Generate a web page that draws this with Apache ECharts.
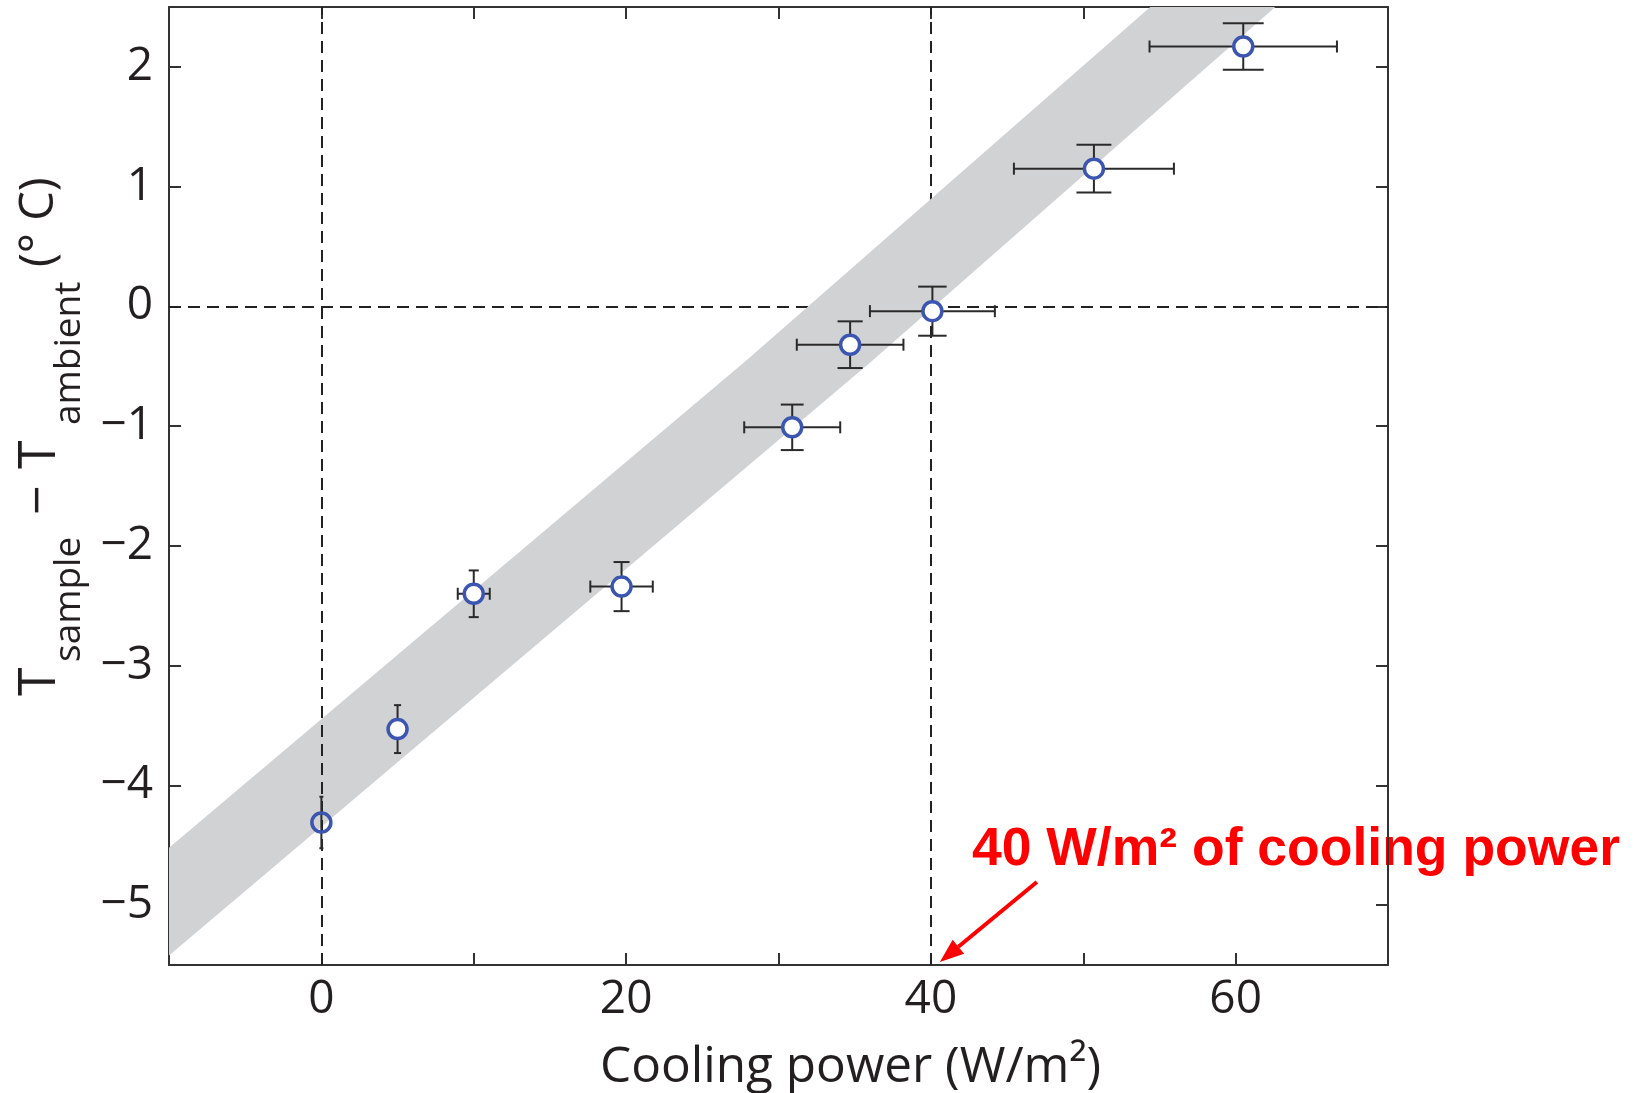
<!DOCTYPE html>
<html>
<head>
<meta charset="utf-8">
<script src="https://cdn.jsdelivr.net/npm/echarts@6/dist/echarts.min.js"></script>
<style>
  html, body { margin: 0; padding: 0; background: #ffffff; }
  #chart { width: 1639px; height: 1093px; }
</style>
</head>
<body>
<div id="chart"></div>
<script>
// Measured points: cooling power (W/m²) against sample-minus-ambient temperature (°C)
const coolingPower = [0, 5.0, 10.0, 19.7, 30.9, 34.7, 40.1, 50.7, 60.5];
const tempDiff     = [-4.31, -3.53, -2.40, -2.34, -1.01, -0.32, -0.04, 1.15, 2.17];
const powerErr     = [0, 0, 1.05, 2.05, 3.15, 3.5, 4.1, 5.25, 6.15];
const tempErr      = [0.215, 0.2, 0.195, 0.205, 0.19, 0.195, 0.205, 0.2, 0.195];

// Shaded fit band, described by its upper and lower edges
const bandUpperX = [-10, 28, 54.4];
const bandUpperY = [-4.52, -0.44, 2.5];
const bandLowerX = [-10, 36, 62.6];
const bandLowerY = [-5.42, -0.47, 2.5];

// Axis ranges and labelled ticks
const xRange = [-10, 70];
const yRange = [-5.5, 2.5];
const xLabelTicks = [0, 20, 40, 60];
const yLabelTicks = [-5, -4, -3, -2, -1, 0, 1, 2];

// Dashed reference lines
const refX = [0, 40];
const refY = [0];

const INK = '#231f20';
const FRAME = '#333333';
const BAR = '#2a2a2a';
const RING = '#3b55b0';

const chart = echarts.init(document.getElementById('chart'), null, { renderer: 'canvas' });

const frameLine = { show: true, onZero: false, lineStyle: { color: FRAME, width: 2 } };
const innerTick = { show: true, inside: true, length: 12, lineStyle: { color: FRAME, width: 2 } };

function xAxisDef(pos, withLabels) {
  return {
    type: 'value', position: pos, min: xRange[0], max: xRange[1], interval: 10,
    axisLine: frameLine, axisTick: innerTick, splitLine: { show: false },
    axisLabel: withLabels ? {
      show: true, margin: 12, color: INK, fontFamily: 'Open Sans', fontSize: 46,
      formatter: v => xLabelTicks.indexOf(v) >= 0 ? String(v) : ''
    } : { show: false }
  };
}
function yAxisDef(pos, withLabels) {
  return {
    type: 'value', position: pos, min: yRange[0], max: yRange[1],
    splitNumber: 8, minInterval: 1, maxInterval: 1,
    axisLine: frameLine, axisTick: innerTick, splitLine: { show: false },
    axisLabel: withLabels ? {
      show: true, margin: 16, color: INK, fontFamily: 'Open Sans', fontSize: 46,
      formatter: v => yLabelTicks.indexOf(v) >= 0 ? String(v).replace('-', '\u2212') : ''
    } : { show: false }
  };
}

const bandPoints = bandUpperX.map((x, i) => [x, bandUpperY[i]])
  .concat(bandLowerX.map((x, i) => [x, bandLowerY[i]]).reverse());

const errData = coolingPower.map((x, i) => [x, tempDiff[i], powerErr[i], tempErr[i]]);
const pointData = coolingPower.map((x, i) => [x, tempDiff[i]]);

const dashStyle = { color: '#222222', width: 2, type: [12, 7] };

function segment(x1, y1, x2, y2) {
  return { type: 'line', shape: { x1, y1, x2, y2 }, style: { stroke: BAR, lineWidth: 2 } };
}

const option = {
  animation: false,
  backgroundColor: '#ffffff',
  grid: { left: 169, right: 251, top: 7, bottom: 128, containLabel: false },
  xAxis: [xAxisDef('bottom', true), xAxisDef('top', false)],
  yAxis: [yAxisDef('left', true), yAxisDef('right', false)],
  series: [
    {
      // reference lines that sit underneath the band
      type: 'line', data: [], z: 1, silent: true,
      markLine: {
        z: 1, silent: true, symbol: ['none', 'none'], label: { show: false },
        lineStyle: dashStyle, animation: false,
        data: [{ xAxis: refX[1] }, { yAxis: refY[0] }]
      }
    },
    {
      // fit band
      type: 'custom', z: 2, silent: true, clip: true,
      data: [[bandUpperX[0], bandUpperY[0]]],
      renderItem: (params, api) => ({
        type: 'polygon',
        shape: { points: bandPoints.map(p => api.coord(p)) },
        style: { fill: '#d1d2d4' }
      })
    },
    {
      // zero-power reference line, drawn above the band
      type: 'line', data: [], z: 3, silent: true,
      markLine: {
        z: 3, silent: true, symbol: ['none', 'none'], label: { show: false },
        lineStyle: dashStyle, animation: false,
        data: [{ xAxis: refX[0] }]
      }
    },
    {
      // error bars: vertical (temperature) and horizontal (power) with caps
      type: 'custom', z: 4, silent: true,
      encode: { x: 0, y: 1 },
      data: errData,
      renderItem: (params, api) => {
        const x = api.value(0), y = api.value(1), ex = api.value(2), ey = api.value(3);
        const top = api.coord([x, y + ey]);
        const bot = api.coord([x, y - ey]);
        const unit = api.size([1, 0])[0];
        const cap = 2 + 0.02 * Math.abs(x) * unit;
        const kids = [
          segment(top[0], top[1], bot[0], bot[1]),
          segment(top[0] - cap, top[1], top[0] + cap, top[1]),
          segment(bot[0] - cap, bot[1], bot[0] + cap, bot[1])
        ];
        if (ex > 0) {
          const l = api.coord([x - ex, y]);
          const r = api.coord([x + ex, y]);
          kids.push(segment(l[0], l[1], r[0], r[1]));
          kids.push(segment(l[0], l[1] - 6, l[0], l[1] + 6));
          kids.push(segment(r[0], r[1] - 6, r[0], r[1] + 6));
        }
        return { type: 'group', children: kids };
      }
    },
    {
      // open circle markers; the zero-power point is left unfilled
      type: 'scatter', z: 5, silent: true,
      data: pointData,
      symbol: 'circle', symbolSize: 19,
      itemStyle: {
        color: p => p.dataIndex === 0 ? 'rgba(255,255,255,0)' : '#ffffff',
        borderColor: RING, borderWidth: 3.5, opacity: 1
      }
    }
  ]
};

chart.setOption(option);

// Axis titles and annotation
const tip0 = chart.convertToPixel({ xAxisIndex: 0, yAxisIndex: 0 }, [refX[1], yRange[0]]);
const tip = [tip0[0] + 9, tip0[1] - 3];
const dir = [-97, 80];
const dl = Math.hypot(dir[0], dir[1]);
const u = [dir[0] / dl, dir[1] / dl];
const perp = [-u[1], u[0]];
const headLen = 24, headHalf = 9;
const base = [tip[0] - u[0] * headLen, tip[1] - u[1] * headLen];
const start = [tip[0] - dir[0], tip[1] - dir[1]];

function txt(x, baseline, text, size, extra) {
  return {
    type: 'text', x: x, y: baseline - 0.285 * size, silent: true,
    style: Object.assign({
      text: text, fill: INK, font: size + 'px "Open Sans"',
      align: 'left', verticalAlign: 'middle'
    }, extra || {})
  };
}

chart.setOption({
  graphic: [
    txt(600, 1082, 'Cooling power (W/m\u00b2)', 49.5),
    {
      type: 'group', x: 55, y: 696, rotation: Math.PI / 2, silent: true,
      children: [
        txt(0, 0, 'T', 52),
        txt(34, 25, 'sample', 37),
        txt(181, 0, '\u2212', 52),
        txt(227, 0, 'T', 52),
        txt(271, 25, 'ambient', 37),
        txt(429, -2, '(\u00b0 C)', 47)
      ]
    },
    {
      type: 'line', silent: true,
      shape: { x1: start[0], y1: start[1], x2: base[0], y2: base[1] },
      style: { stroke: '#ff0000', lineWidth: 4 }
    },
    {
      type: 'polygon', silent: true,
      shape: {
        points: [
          tip,
          [base[0] + perp[0] * headHalf, base[1] + perp[1] * headHalf],
          [base[0] - perp[0] * headHalf, base[1] - perp[1] * headHalf]
        ]
      },
      style: { fill: '#ff0000' }
    },
    {
      type: 'text', x: 972, y: 867 - 0.31 * 53.5, silent: true,
      style: {
        text: '40 W/m\u00b2 of cooling power', fill: '#ff0000',
        font: 'bold 53.5px "Liberation Sans"', align: 'left', verticalAlign: 'middle'
      }
    }
  ]
});
</script>
</body>
</html>
